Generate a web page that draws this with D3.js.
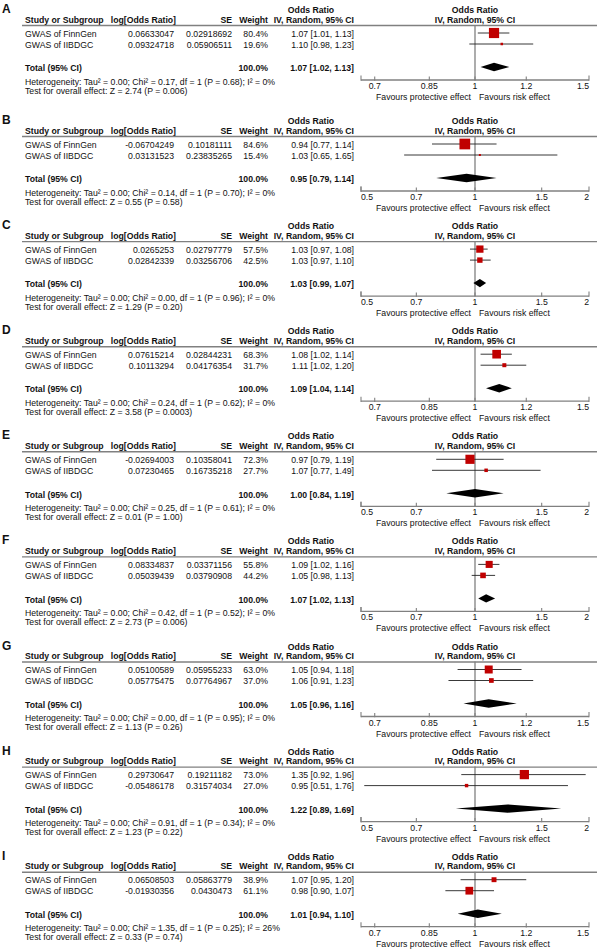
<!DOCTYPE html>
<html><head><meta charset="utf-8">
<script src="https://cdn.jsdelivr.net/npm/d3@7/dist/d3.min.js"></script>
<style>
html,body{margin:0;padding:0;background:#fff;}
text{font-family:"Liberation Sans",Arial,sans-serif;fill:#111;}
</style></head>
<body><svg id="c" width="603" height="951"></svg>
<script>
const panelLabels = ["A","B","C","D","E","F","G","H","I"];
const studies = ["GWAS of FinnGen","GWAS of IIBDGC"];
const logORs = [
  ["0.06633047","0.09324718"],
  ["-0.06704249","0.03131523"],
  ["0.0265253","0.02842339"],
  ["0.07615214","0.10113294"],
  ["-0.02694003","0.07230465"],
  ["0.08334837","0.05039439"],
  ["0.05100589","0.05775475"],
  ["0.29730647","-0.05486178"],
  ["0.06508503","-0.01930356"]
];
const seVals = [
  ["0.02918692","0.05906511"],
  ["0.10181111","0.23835265"],
  ["0.02797779","0.03256706"],
  ["0.02844231","0.04176354"],
  ["0.10358041","0.16735218"],
  ["0.03371156","0.03790908"],
  ["0.05955233","0.07764967"],
  ["0.19211182","0.31574034"],
  ["0.05863779","0.0430473"]
];
const weights = [[80.4,19.6],[84.6,15.4],[57.5,42.5],[68.3,31.7],[72.3,27.7],[55.8,44.2],[63.0,37.0],[73.0,27.0],[38.9,61.1]];
const orVals = [[1.07,1.10],[0.94,1.03],[1.03,1.03],[1.08,1.11],[0.97,1.07],[1.09,1.05],[1.05,1.06],[1.35,0.95],[1.07,0.98]];
const ciLow  = [[1.01,0.98],[0.77,0.65],[0.97,0.97],[1.02,1.02],[0.79,0.77],[1.02,0.98],[0.94,0.91],[0.92,0.51],[0.95,0.90]];
const ciHigh = [[1.13,1.23],[1.14,1.65],[1.08,1.10],[1.14,1.20],[1.19,1.49],[1.16,1.13],[1.18,1.23],[1.96,1.76],[1.20,1.07]];
const totalOR   = [1.07,0.95,1.03,1.09,1.00,1.07,1.05,1.22,1.01];
const totalLow  = [1.02,0.79,0.99,1.04,0.84,1.02,0.96,0.89,0.94];
const totalHigh = [1.13,1.14,1.07,1.14,1.19,1.13,1.16,1.69,1.10];
const tau2 = ["0.00","0.00","0.00","0.00","0.00","0.00","0.00","0.00","0.00"];
const chi2 = ["0.17","0.14","0.00","0.24","0.25","0.42","0.00","0.91","1.35"];
const pHet = ["0.68","0.70","0.96","0.62","0.61","0.52","0.95","0.34","0.25"];
const i2   = ["0","0","0","0","0","0","0","0","26"];
const zVals = ["2.74","0.55","1.29","3.58","0.01","2.73","1.13","1.23","0.33"];
const pZ    = ["0.006","0.58","0.20","0.0003","1.00","0.006","0.26","0.22","0.74"];
const axisMax = [1.5,2,2,1.5,2,2,1.5,2,1.5];
const ticks15 = [0.7,0.85,1,1.2,1.5];
const ticks2  = [0.5,0.7,1,1.5,2];
const headers = ["Study or Subgroup","log[Odds Ratio]","SE","Weight","IV, Random, 95% CI"];

const svg = d3.select("#c");
svg.append("rect").attr("width",603).attr("height",951).attr("fill","#fff");
const FS = 8.7, GRAY = "#808080", RED = "#c00000";
const f2 = d3.format(".2f"), f1 = d3.format(".1f");

panelLabels.forEach((lab,i)=>{
  const y0 = i===0 ? 25 : 136 + (i-1)*105.1;
  const g = svg.append("g").attr("transform",`translate(0,${y0})`);
  const T = (x,y,s,anchor,bold,size)=>g.append("text").attr("x",x).attr("y",y).attr("text-anchor",anchor||"start")
      .attr("font-size",size||FS).attr("font-weight",bold?"bold":"normal").text(s);
  T(2,-12,lab,"start",true,12);
  T(311,-12,"Odds Ratio","middle",true);
  T(475,-12,"Odds Ratio","middle",true);
  T(25,-2.5,headers[0],"start",true);
  T(176,-2.5,headers[1],"end",true);
  T(232,-2.5,headers[2],"end",true);
  T(268,-2.5,headers[3],"end",true);
  T(354,-2.5,headers[4],"end",true);
  T(475,-2.5,headers[4],"middle",true);
  g.append("line").attr("x1",22).attr("x2",597).attr("y1",0.5).attr("y2",0.5).attr("stroke",GRAY).attr("stroke-width",1.4);

  const rowY = [8,19];
  const max = axisMax[i];
  const x = d3.scaleLog().domain([1/max,max]).range([361,589]);
  const axY = 55;
  g.append("line").attr("x1",x(1)).attr("x2",x(1)).attr("y1",0).attr("y2",axY).attr("stroke",GRAY).attr("stroke-width",1.3);

  studies.forEach((s,j)=>{
    const ty = rowY[j]+3.5;
    T(25,ty,s);
    T(174,ty,logORs[i][j],"end");
    T(232,ty,seVals[i][j],"end");
    T(268,ty,f1(weights[i][j])+"%","end");
    T(354,ty,`${f2(orVals[i][j])} [${f2(ciLow[i][j])}, ${f2(ciHigh[i][j])}]`,"end");
    g.append("line").attr("x1",x(ciLow[i][j])).attr("x2",x(ciHigh[i][j])).attr("y1",rowY[j]).attr("y2",rowY[j])
      .attr("stroke","#222").attr("stroke-width",0.9);
    const side = Math.max(2, weights[i][j]/7.9);
    g.append("rect").attr("x",x(orVals[i][j])-side/2).attr("y",rowY[j]-side/2).attr("width",side).attr("height",side).attr("fill",RED);
  });
  const tY = 42;
  T(25,tY+4.3,"Total (95% CI)","start",true);
  T(268,tY+4.3,"100.0%","end",true);
  T(354,tY+4.3,`${f2(totalOR[i])} [${f2(totalLow[i])}, ${f2(totalHigh[i])}]`,"end",true);
  g.append("path").attr("d",`M${x(totalLow[i])},${tY} L${x(totalOR[i])},${tY-4.2} L${x(totalHigh[i])},${tY} L${x(totalOR[i])},${tY+4.2} Z`).attr("fill","#000");
  T(25,59.5,`Heterogeneity: Tau\u00B2 = ${tau2[i]}; Chi\u00B2 = ${chi2[i]}, df = 1 (P = ${pHet[i]}); I\u00B2 = ${i2[i]}%`);
  T(25,68.7,`Test for overall effect: Z = ${zVals[i]} (P = ${pZ[i]})`);
  const tks = max===1.5 ? ticks15 : ticks2;
  g.append("line").attr("x1",x.range()[0]).attr("x2",x.range()[1]).attr("y1",axY).attr("y2",axY).attr("stroke",GRAY).attr("stroke-width",1.3);
  const allT = [1/max].concat(tks);
  allT.forEach(t=>{
    const end = Math.abs(Math.log(t)) > Math.log(max)-1e-6;
    g.append("line").attr("x1",x(t)).attr("x2",x(t)).attr("y1",axY-(end?4.5:3.5)).attr("y2",axY+0.7).attr("stroke",GRAY).attr("stroke-width",1.1);
  });
  tks.forEach(t=>{
    const xx = x(t);
    let anchor = "middle";
    if (Math.abs(xx - x.range()[0])<0.5) anchor = "start";
    if (Math.abs(xx - x.range()[1])<0.5) anchor = "end";
    T(xx,64,String(t),anchor);
  });
  T(x(1)-4,75,"Favours protective effect","end");
  T(x(1)+4,75,"Favours risk effect","start");
});
</script></body></html>
